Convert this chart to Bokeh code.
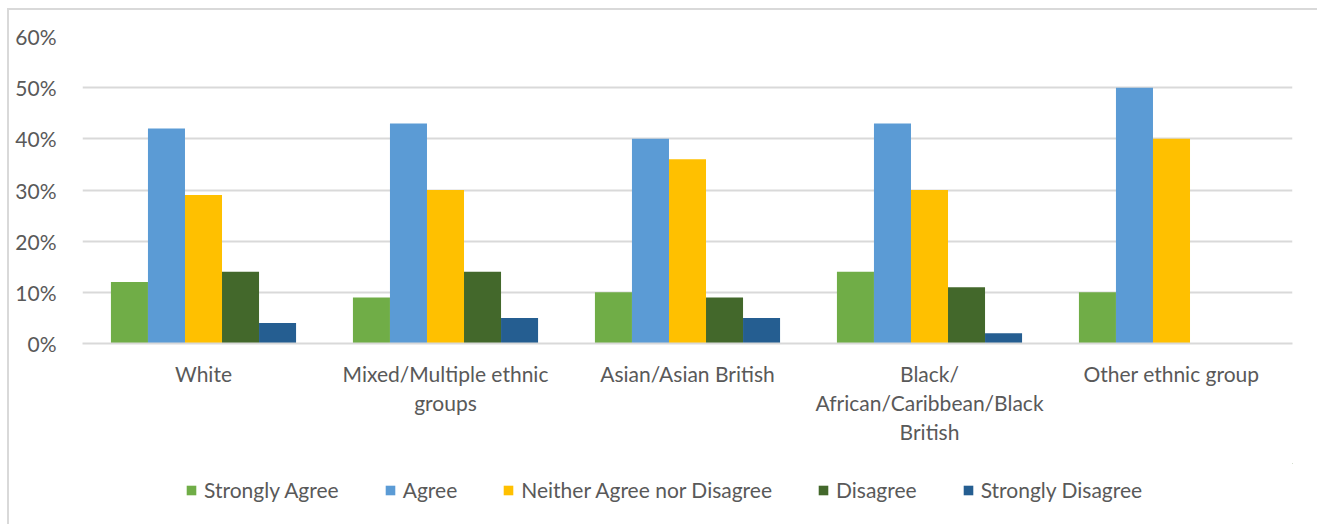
from bokeh.plotting import figure
from bokeh.layouts import column
from bokeh.models import ColumnDataSource, FactorRange, Range1d, Legend, LegendItem, NumeralTickFormatter, FixedTicker
from bokeh.transform import dodge
from bokeh.embed import file_html
from bokeh.resources import INLINE

categories = ["White", "Mixed/Multiple ethnic\ngroups", "Asian/Asian British",
              "Black/\nAfrican/Caribbean/Black\nBritish", "Other ethnic group"]

series_names = ["Strongly Agree", "Agree", "Neither Agree nor Disagree", "Disagree", "Strongly Disagree"]
strongly_agree = [0.12, 0.09, 0.10, 0.14, 0.10]
agree = [0.42, 0.43, 0.40, 0.43, 0.50]
neither = [0.29, 0.30, 0.36, 0.30, 0.40]
disagree = [0.14, 0.14, 0.09, 0.11, 0.0]
strongly_disagree = [0.04, 0.05, 0.05, 0.02, 0.0]
y_ticks = [0.0, 0.1, 0.2, 0.3, 0.4, 0.5, 0.6]

series_values = [strongly_agree, agree, neither, disagree, strongly_disagree]
colors = ["#70AD47", "#5B9BD5", "#FFC000", "#43682B", "#255E91"]

TEXT = "#595959"
GRID = "#D9D9D9"
FONT = "Lato"
FONT_SIZE = "21px"

# main bar chart
p = figure(
    width=1309, height=453,
    x_range=FactorRange(*categories, range_padding=0),
    y_range=Range1d(0, 0.6),
    output_backend="svg", toolbar_location=None,
    min_border_left=73, min_border_right=26, min_border_top=26, min_border_bottom=120,
)
p.outline_line_color = None
p.background_fill_color = "white"
p.border_fill_color = "white"

bar_w = 0.153
data = {"category": categories}
for name, vals in zip(series_names, series_values):
    data[name] = vals
source = ColumnDataSource(data)

for i, (name, col) in enumerate(zip(series_names, colors)):
    p.vbar(x=dodge("category", (i - 2) * bar_w, range=p.x_range), top=name, width=bar_w,
           source=source, fill_color=col, line_color=None)

p.yaxis.ticker = FixedTicker(ticks=y_ticks)
p.yaxis.formatter = NumeralTickFormatter(format="0%")
p.yaxis.axis_line_color = None
p.yaxis.major_tick_line_color = None
p.yaxis.minor_tick_line_color = None
p.yaxis.major_label_standoff = 20
p.yaxis.major_label_text_font = FONT
p.yaxis.major_label_text_font_size = FONT_SIZE
p.yaxis.major_label_text_color = TEXT

p.xaxis.axis_line_color = GRID
p.xaxis.axis_line_width = 2
p.xaxis.major_tick_line_color = None
p.xaxis.minor_tick_line_color = None
p.xaxis.major_label_standoff = 11
p.xaxis.major_label_text_font = FONT
p.xaxis.major_label_text_font_size = FONT_SIZE
p.xaxis.major_label_text_color = TEXT
p.xaxis.major_label_text_line_height = 1.17

p.xgrid.grid_line_color = None
p.ygrid.grid_line_color = GRID
p.ygrid.grid_line_width = 2

# legend strip under the chart; its swatch bars sit outside the visible range
lg = figure(
    width=1309, height=61, output_backend="svg", toolbar_location=None,
    x_range=Range1d(0, 1), y_range=Range1d(0, 1),
    min_border=0,
)
lg.axis.visible = False
lg.grid.visible = False
lg.outline_line_color = None
lg.border_fill_color = "white"

items = []
for name, col in zip(series_names, colors):
    r = lg.vbar(x=[5], top=[5], bottom=[4], width=0.1, fill_color=col, line_color=None)
    items.append(LegendItem(label=name, renderers=[r]))

legend = Legend(
    items=items, orientation="horizontal", location=(103, 22),
    glyph_width=12, glyph_height=12, label_standoff=7, spacing=45,
    padding=0, margin=0, border_line_color=None, background_fill_alpha=0,
    label_text_font=FONT, label_text_font_size=FONT_SIZE, label_text_color=TEXT,
)
lg.add_layout(legend, "center")

page = column(p, lg, spacing=0)
page.margin = (8, 0, 0, 7)
page.styles = {"border": f"2px solid {GRID}", "box-sizing": "content-box"}

open("out.html", "w").write(file_html(page, INLINE))
